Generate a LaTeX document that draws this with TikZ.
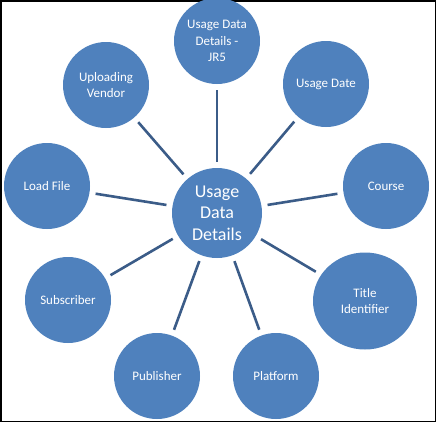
\documentclass[tikz,border=0pt]{standalone}
\usepackage{fontspec}
\setmainfont{Carlito}
\usepackage{xcolor}
\usetikzlibrary{shapes.geometric}
\definecolor{bubble}{HTML}{4F81BD}
\definecolor{spoke}{HTML}{3B5C88}

\begin{document}
\begin{tikzpicture}[x=1pt,y=-1pt]
\tikzstyle{every node}+=[inner sep=0pt]
\tikzstyle{leaf}=[circle,fill=bubble,minimum size=86pt,text=white,align=center,font=\fontsize{13}{16.5}\selectfont]
\tikzstyle{hub}=[circle,fill=bubble,minimum size=90pt,text=white,align=center,font=\fontsize{18}{21.6}\selectfont]
\tikzstyle{spokeline}=[spoke,line width=2.6pt,shorten <=6pt,shorten >=6pt]
\useasboundingbox (0,0) rectangle (437,424);
\draw [black,line width=1.5pt] (1,1) rectangle (435.5,421.5);
\node [hub] (hub) at (217,213) {Usage\\Data\\Details};
\node [leaf] (jr5) at (217,41) {Usage Data\\Details -\\JR5};
\node [leaf] (date) at (326,84) {Usage Date};
\node [leaf] (course) at (386,186) {Course};
\node [leaf,ellipse,minimum width=104pt,minimum height=97pt] (title) at (365,301) {Title\\Identifier};
\node [leaf] (platform) at (276,376) {Platform};
\node [leaf] (publisher) at (157,376) {Publisher};
\node [leaf] (subscriber) at (68,300) {Subscriber};
\node [leaf] (loadfile) at (47,186) {Load File};
\node [leaf] (vendor) at (106,85) {Uploading\\Vendor};
\foreach \n in {jr5,date,course,title,platform,publisher,subscriber,loadfile,vendor}
  \draw [spokeline] (hub) -- (\n);
\end{tikzpicture}
\end{document}
